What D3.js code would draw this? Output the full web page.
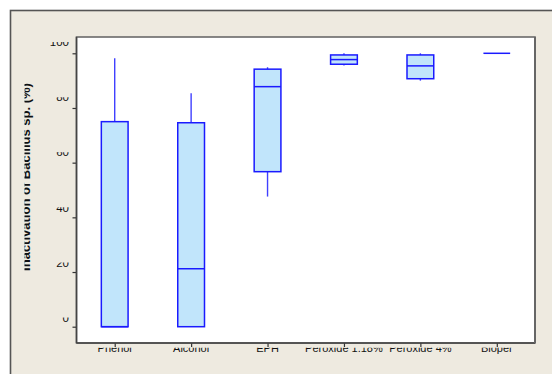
<!DOCTYPE html>
<html>
<head>
<meta charset="utf-8">
<script src="https://cdn.jsdelivr.net/npm/d3@7"></script>
<style>
  html, body { margin: 0; padding: 0; background: #ffffff; }
  svg { display: block; font-family: "Liberation Sans", Arial, sans-serif; }
</style>
</head>
<body>
<svg id="chart" width="552" height="374"></svg>
<script>
// Box plot statistics per treatment (inactivation, %)
const categories = ["Phenol", "Alcohol", "EPH", "Peroxide 1.18%", "Peroxide 4%", "Bioper"];
const mins    = [0,    0,    47.6, 95.5, 90.0, 100];
const q1s     = [0,    0,    56.7, 96.0, 90.7, 100];
const medians = [0,    21.2, 87.8, 97.7, 95.4, 100];
const q3s     = [75.0, 74.6, 94.2, 99.4, 99.4, 100];
const maxs    = [98.2, 85.4, 94.9, 100,  100,  100];
const yTicks  = [0, 20, 40, 60, 80, 100];
const yTitle  = "Inactivation of Bacillus sp. (%)";

const rows = categories.map((c, i) => ({
  cat: c, min: mins[i], q1: q1s[i], med: medians[i], q3: q3s[i], max: maxs[i]
}));

const svg = d3.select("#chart");
const panel = { left: 76.5, right: 535, top: 37, bottom: 343 };

// outer frame
svg.append("rect").attr("x", 0).attr("y", 0).attr("width", 552).attr("height", 374).attr("fill", "#ffffff");
svg.append("rect").attr("x", 10.5).attr("y", 10.5).attr("width", 560).attr("height", 380)
  .attr("fill", "#eeeae0").attr("stroke", "#555555").attr("stroke-width", 1.6);

// plot panel
svg.append("rect")
  .attr("x", panel.left).attr("y", panel.top)
  .attr("width", panel.right - panel.left).attr("height", panel.bottom - panel.top)
  .attr("fill", "#ffffff").attr("stroke", "#6a6a6a").attr("stroke-width", 1.6);

const x = d3.scalePoint().domain(categories).range([panel.left, panel.right]).padding(0.5);
const y = d3.scaleLinear().domain([0, 100]).range([326.7, 53.3]);
const boxW = x.step() * 0.35;

const defs = svg.append("defs");

// y axis
const yAxis = svg.append("g").attr("transform", `translate(${panel.left},0)`)
  .call(d3.axisLeft(y).tickValues(yTicks).tickSize(4).tickFormat(""));
yAxis.select(".domain").remove();
yAxis.selectAll(".tick line").attr("stroke", "#333333").attr("stroke-width", 1.2);

// y tick labels, lower part visible only
const labBase = d => y(d) - 5 - (d / 100) * 2;
const yLabClip = defs.append("clipPath").attr("id", "ylab-clip");
yLabClip.selectAll("rect").data(yTicks).join("rect")
  .attr("x", 30).attr("width", 45)
  .attr("y", d => labBase(d) - 4.2).attr("height", 7);
svg.append("g").attr("clip-path", "url(#ylab-clip)")
  .selectAll("text").data(yTicks).join("text")
  .attr("x", 69).attr("y", labBase)
  .attr("text-anchor", "end").attr("font-size", 11.5).attr("fill", "#111111")
  .text(d => d);

// x axis
const xAxis = svg.append("g").attr("transform", `translate(0,${panel.bottom})`)
  .call(d3.axisBottom(x).tickSize(4).tickFormat(""));
xAxis.select(".domain").remove();
xAxis.selectAll(".tick line").attr("stroke", "#333333").attr("stroke-width", 1.2);

defs.append("clipPath").attr("id", "xlab-clip")
  .append("rect").attr("x", 0).attr("y", 347.8).attr("width", 552).attr("height", 10);
svg.append("g").attr("clip-path", "url(#xlab-clip)")
  .selectAll("text").data(categories).join("text")
  .attr("x", d => x(d)).attr("y", 351.8)
  .attr("text-anchor", "middle").attr("font-size", 11).attr("fill", "#111111")
  .text(d => d);

// y title, lower part visible only
defs.append("clipPath").attr("id", "ytitle-clip")
  .append("rect").attr("x", 24.5).attr("y", 30).attr("width", 20).attr("height", 300);
svg.append("g").attr("clip-path", "url(#ytitle-clip)")
  .append("text")
  .attr("transform", "translate(30,177) rotate(-90)")
  .attr("text-anchor", "middle").attr("font-size", 13).attr("font-weight", "bold").attr("fill", "#111111")
  .text(yTitle);

// panel edges on top of everything
svg.append("line").attr("x1", panel.left).attr("x2", panel.left).attr("y1", panel.top).attr("y2", panel.bottom)
  .attr("stroke", "#444444").attr("stroke-width", 1.5);
svg.append("line").attr("x1", panel.left).attr("x2", panel.right).attr("y1", panel.bottom).attr("y2", panel.bottom)
  .attr("stroke", "#444444").attr("stroke-width", 1.5);
svg.append("line").attr("x1", panel.right).attr("x2", panel.right).attr("y1", panel.top).attr("y2", panel.bottom)
  .attr("stroke", "#666666").attr("stroke-width", 2);

// boxes
const g = svg.append("g").selectAll("g").data(rows).join("g");
const stroke = "#1a1aff";

g.append("line")
  .attr("x1", d => x(d.cat)).attr("x2", d => x(d.cat))
  .attr("y1", d => y(d.q3)).attr("y2", d => y(d.max))
  .attr("stroke", "#4040ff").attr("stroke-width", 1.4);
g.append("line")
  .attr("x1", d => x(d.cat)).attr("x2", d => x(d.cat))
  .attr("y1", d => y(d.q1)).attr("y2", d => y(d.min))
  .attr("stroke", "#4040ff").attr("stroke-width", 1.4);
g.append("rect")
  .attr("x", d => x(d.cat) - boxW / 2).attr("width", boxW)
  .attr("y", d => y(d.q3)).attr("height", d => Math.max(0, y(d.q1) - y(d.q3)))
  .attr("fill", "#c1e5fb").attr("stroke", stroke).attr("stroke-width", 1.5);
g.append("line")
  .attr("x1", d => x(d.cat) - boxW / 2).attr("x2", d => x(d.cat) + boxW / 2)
  .attr("y1", d => y(d.med)).attr("y2", d => y(d.med))
  .attr("stroke", stroke).attr("stroke-width", 1.5);
</script>
</body>
</html>
